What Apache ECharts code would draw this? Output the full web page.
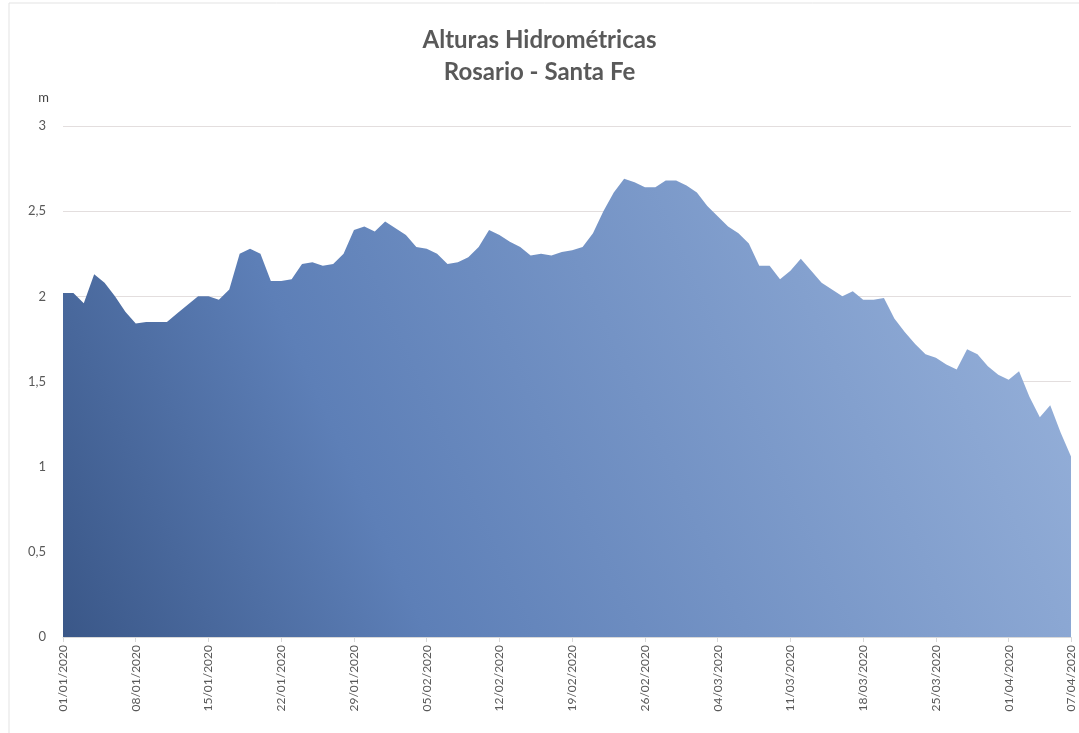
<!DOCTYPE html>
<html>
<head>
    <meta charset="utf-8">
    <title>Alturas Hidrométricas - Rosario - Santa Fe</title>
    <script src="https://cdn.jsdelivr.net/npm/echarts@6/dist/echarts.min.js"></script>
    <style>
        html, body { margin: 0; padding: 0; background: #fff; }
        #chart { width: 1079px; height: 733px; }
    </style>
</head>
<body>
<div id="chart"></div>
<script>
    // fechas: 01/01/2020 .. 07/04/2020 (diario)
    var numDays = 98;
    var dates = [];
    for (var i = 0; i < numDays; i++) {
        var d = new Date(2020, 0, 1 + i);
        var dd = ('0' + d.getDate()).slice(-2);
        var mm = ('0' + (d.getMonth() + 1)).slice(-2);
        dates.push(dd + '/' + mm + '/' + d.getFullYear());
    }

    // alturas (m)
    var alturas = [
        2.02, 2.02, 1.96, 2.13, 2.08, 2.00, 1.91, 1.84, 1.85, 1.85,
        1.85, 1.90, 1.95, 2.00, 2.00, 1.98, 2.04, 2.25, 2.28, 2.25,
        2.09, 2.09, 2.10, 2.19, 2.20, 2.18, 2.19, 2.25, 2.39, 2.41,
        2.38, 2.44, 2.40, 2.36, 2.29, 2.28, 2.25, 2.19, 2.20, 2.23,
        2.29, 2.39, 2.36, 2.32, 2.29, 2.24, 2.25, 2.24, 2.26, 2.27,
        2.29, 2.37, 2.50, 2.61, 2.69, 2.67, 2.64, 2.64, 2.68, 2.68,
        2.65, 2.61, 2.53, 2.47, 2.41, 2.37, 2.31, 2.18, 2.18, 2.10,
        2.15, 2.22, 2.15, 2.08, 2.04, 2.00, 2.03, 1.98, 1.98, 1.99,
        1.87, 1.79, 1.72, 1.66, 1.64, 1.60, 1.57, 1.69, 1.66, 1.59,
        1.54, 1.51, 1.56, 1.41, 1.29, 1.36, 1.20, 1.06
    ];

    var yMin = 0, yMax = 3, yStep = 0.5;
    var labelEvery = 7;

    function showIdx(idx) {
        return idx % labelEvery === 0 || idx === dates.length - 1;
    }

    var chart = echarts.init(document.getElementById('chart'));

    var option = {
        backgroundColor: '#fff',
        animation: false,
        textStyle: { fontFamily: 'Lato, "Open Sans", sans-serif' },
        title: {
            text: 'Alturas Hidrométricas\nRosario - Santa Fe',
            left: 'center',
            top: 19,
            textStyle: {
                fontFamily: 'Lato, "Open Sans", sans-serif',
                fontWeight: 'bold',
                fontSize: 24,
                lineHeight: 32,
                color: '#595959'
            }
        },
        graphic: [{
            type: 'rect',
            shape: { x: 9, y: 3, width: 1100, height: 760 },
            style: { fill: 'none', stroke: '#e3e3e3', lineWidth: 1 }
        }],
        grid: {
            left: 63,
            right: 8,
            top: 126,
            bottom: 96
        },
        xAxis: {
            type: 'category',
            data: dates,
            boundaryGap: false,
            axisLine: { lineStyle: { color: '#d9d9d9' } },
            axisTick: {
                show: true,
                interval: function (idx) { return showIdx(idx); },
                length: 5,
                lineStyle: { color: '#d9d9d9' }
            },
            axisLabel: {
                interval: function (idx) { return showIdx(idx); },
                rotate: 90,
                fontSize: 12,
                color: '#595959',
                margin: 8
            },
            splitLine: { show: false }
        },
        yAxis: {
            type: 'value',
            min: yMin,
            max: yMax,
            interval: yStep,
            name: 'm',
            nameLocation: 'end',
            nameGap: 22,
            nameTextStyle: {
                fontSize: 13,
                color: '#404040',
                align: 'right',
                padding: [0, 14, 0, 0]
            },
            axisLine: { show: false },
            axisTick: { show: false },
            axisLabel: {
                fontSize: 13,
                color: '#595959',
                margin: 17,
                formatter: function (v) { return String(v).replace('.', ','); }
            },
            splitLine: { lineStyle: { color: '#e3dede', width: 1 } }
        },
        series: [{
            name: 'Altura',
            type: 'line',
            data: alturas,
            showSymbol: false,
            symbol: 'none',
            lineStyle: { width: 0 },
            areaStyle: {
                opacity: 1,
                color: new echarts.graphic.LinearGradient(0, 1, 1, 0, [
                    { offset: 0, color: '#3a5788' },
                    { offset: 0.3, color: '#5d7fb7' },
                    { offset: 1, color: '#9ab4dc' }
                ])
            }
        }]
    };

    chart.setOption(option);
</script>
</body>
</html>
